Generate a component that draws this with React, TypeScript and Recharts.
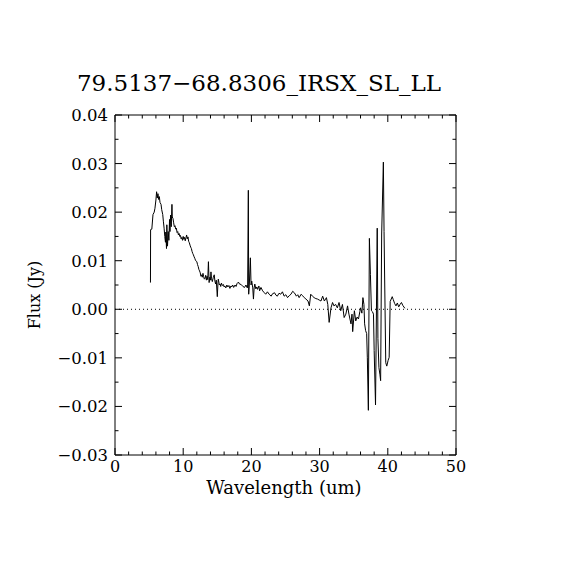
import { LineChart, Line, XAxis, YAxis, ReferenceLine } from 'recharts';

const TITLE = '79.5137\u221268.8306_IRSX_SL_LL';

const WAVELENGTH = [
  5.2, 5.22, 5.4, 5.57, 5.75, 5.86, 6.0, 6.1, 6.2, 6.3,
  6.4, 6.5, 6.6, 6.75, 6.85, 7.0, 7.1, 7.2, 7.3, 7.4,
  7.45, 7.55, 7.6, 7.7, 7.8, 7.9, 8.0, 8.06, 8.15, 8.25,
  8.35, 8.4, 8.5, 8.6, 8.7, 8.8, 8.9, 9.0, 9.1, 9.2,
  9.3, 9.4, 9.5, 9.6, 9.7, 9.8, 9.9, 10.0, 10.1, 10.2,
  10.3, 10.4, 10.5, 10.6, 10.7, 10.8, 10.9, 11.0, 11.1, 11.2,
  11.3, 11.4, 11.5, 11.6, 11.7, 11.8, 11.9, 12.0, 12.1, 12.2,
  12.3, 12.4, 12.5, 12.6, 12.7, 12.8, 12.9, 13.0, 13.1, 13.2,
  13.3, 13.4, 13.5, 13.6, 13.7, 13.8, 13.9, 14.0, 14.07, 14.15,
  14.27, 14.4, 14.55, 14.65, 14.75, 14.85, 15.0, 15.1, 15.15, 15.3,
  15.4, 15.5, 15.6, 15.75, 15.9, 16.0, 16.1, 16.25, 16.4, 16.55,
  16.7, 16.85, 17.0, 17.1, 17.25, 17.4, 17.6, 17.75, 17.9, 18.1,
  18.25, 18.5, 18.75, 19.0, 19.2, 19.4, 19.45, 19.55, 19.6, 19.7,
  19.85, 19.95, 20.05, 20.2, 20.3, 20.4, 20.5, 20.65, 20.8, 20.9,
  21.1, 21.2, 21.4, 21.65, 21.9, 22.1, 22.35, 22.6, 22.9, 23.1,
  23.4, 23.6, 23.8, 24.05, 24.3, 24.55, 24.8, 25.05, 25.3, 25.55,
  25.8, 26.05, 26.3, 26.6, 26.8, 27.0, 27.3, 27.5, 27.75, 28.0,
  28.3, 28.5, 28.7, 28.95, 29.2, 29.45, 29.7, 29.95, 30.2, 30.45,
  30.7, 31.0, 31.2, 31.4, 31.67, 31.9, 32.1, 32.35, 32.6, 32.85,
  33.1, 33.35, 33.6, 33.85, 34.1, 34.3, 34.6, 34.75, 34.85, 35.1,
  35.3, 35.5, 35.7, 35.9, 36.0, 36.2, 36.35, 36.5, 36.6, 36.75,
  36.9, 37.0, 37.15, 37.3, 37.45, 37.6, 37.75, 37.9, 38.0, 38.2,
  38.45, 38.55, 38.7, 38.85, 38.95, 39.1, 39.35, 39.45, 39.7, 39.85,
  40.05, 40.2, 40.35, 40.65, 40.8, 41.0, 41.2, 41.4, 41.6, 41.8,
  42.0, 42.2, 42.5,
];

const FLUX = [
  0.0055, 0.0164, 0.0165, 0.0195, 0.02, 0.0208, 0.0225, 0.0242, 0.0229, 0.0238,
  0.0226, 0.0232, 0.022, 0.0216, 0.0205, 0.0195, 0.018, 0.0167, 0.015, 0.0138,
  0.0159, 0.0125, 0.0174, 0.013, 0.016, 0.0142, 0.0185, 0.016, 0.0194, 0.017,
  0.0216, 0.019, 0.0187, 0.0178, 0.017, 0.0172, 0.0165, 0.0167, 0.0158, 0.016,
  0.0153, 0.0156, 0.015, 0.0152, 0.0145, 0.0148, 0.0142, 0.015, 0.0144, 0.0148,
  0.0141, 0.0147, 0.0153, 0.0145, 0.0149, 0.014, 0.0137, 0.0132, 0.0128, 0.0125,
  0.0119, 0.0115, 0.0112, 0.0108, 0.0105, 0.0101, 0.0099, 0.0098, 0.0092, 0.0088,
  0.0082, 0.0079, 0.0075, 0.0068, 0.0071, 0.0066, 0.0074, 0.0067, 0.0062, 0.0064,
  0.007, 0.006, 0.0068, 0.0061, 0.0098, 0.0055, 0.0066, 0.006, 0.0077, 0.0063,
  0.0057, 0.0065, 0.0071, 0.0058, 0.0052, 0.006, 0.0026, 0.0055, 0.0062, 0.005,
  0.0052, 0.0047, 0.0054, 0.0049, 0.0051, 0.0046, 0.0048, 0.0044, 0.005, 0.0046,
  0.0049, 0.0043, 0.0048, 0.0046, 0.005, 0.0045, 0.005, 0.0047, 0.0053, 0.0056,
  0.0052, 0.0051, 0.0047, 0.0045, 0.005, 0.0044, 0.005, 0.0245, 0.0031, 0.0052,
  0.0106, 0.005, 0.0058, 0.0044, 0.0021, 0.0044, 0.0052, 0.0042, 0.0046, 0.0041,
  0.0048, 0.0038, 0.0045, 0.0038, 0.0034, 0.0031, 0.0036, 0.0031, 0.0027, 0.0032,
  0.0034, 0.0029, 0.0027, 0.0033, 0.0031, 0.0036, 0.0027, 0.003, 0.0024, 0.0028,
  0.0031, 0.0037, 0.0034, 0.0027, 0.003, 0.0024, 0.0031, 0.0028, 0.0024, 0.0021,
  0.0017, 0.0007, 0.0031, 0.0027, 0.0024, 0.0022, 0.0021, 0.0019, 0.0017, 0.0027,
  0.0017, 0.0024, 0.001, -0.0027, 0.0003, 0.0014, 0.0007, 0.001, 0.0003, 0.0014,
  -0.0003, 0.001, -0.0017, -0.001, 0.0007, -0.001, -0.003, -0.001, -0.0046, -0.0003,
  -0.0024, -0.0016, -0.002, -0.0005, 0.0003, -0.0008, 0.0024, 0.001, -0.003, -0.0044,
  -0.005, -0.01, -0.0208, 0.0146, 0.0072, -0.0003, -0.0005, -0.001, -0.0085, -0.0197,
  0.0167, -0.006, -0.012, -0.0135, -0.0147, 0.0155, 0.0303, 0.016, -0.011, -0.0117,
  -0.0105, -0.0099, 0.0016, 0.0026, 0.002, 0.0012, 0.0007, 0.0013, 0.0005, 0.001,
  0.0014, 0.0008, 0.0002,
];

const X_TICKS = [0, 2, 4, 6, 8, 10, 12, 14, 16, 18, 20, 22, 24, 26, 28, 30, 32, 34, 36, 38, 40, 42, 44, 46, 48, 50];
const Y_TICKS = [-0.03, -0.025, -0.02, -0.015, -0.01, -0.005, 0, 0.005, 0.01, 0.015, 0.02, 0.025, 0.03, 0.035, 0.04];

const data = WAVELENGTH.map((wl, i) => ({ wl, flux: FLUX[i] }));

const FONT = 'DejaVu Serif';
const MAJOR = 7;
const MINOR = 3.5;

const fmtY = (v: number) => (v < 0 ? '\u2212' : '') + Math.abs(v).toFixed(2);
const isMajorX = (v: number) => v % 10 === 0;
const isMajorY = (v: number) => Math.round(v * 1000) % 10 === 0;

// ticks drawn by hand so they point into the plot, IDL style
const XTick = ({ x, y, payload, dir, showLabel }: any) => {
  const major = isMajorX(payload.value);
  const len = major ? MAJOR : MINOR;
  return (
    <g>
      <line x1={x} x2={x} y1={y} y2={y + dir * len} stroke="#000" />
      {showLabel && major && (
        <text x={x} y={y + 17} textAnchor="middle" fontFamily={FONT} fontSize={16} fill="#000">
          {payload.value}
        </text>
      )}
    </g>
  );
};

const YTick = ({ x, y, payload, dir, showLabel }: any) => {
  const major = isMajorY(payload.value);
  const len = major ? MAJOR : MINOR;
  return (
    <g>
      <line x1={x} x2={x + dir * len} y1={y} y2={y} stroke="#000" />
      {showLabel && major && (
        <text x={x - 7} y={y + 6} textAnchor="end" fontFamily={FONT} fontSize={16.5} fill="#000">
          {fmtY(payload.value)}
        </text>
      )}
    </g>
  );
};

export default function App() {
  return (
    <div style={{ position: 'absolute', left: 0, top: 0, background: '#fff' }}>
      <LineChart width={570} height={570} data={data} margin={{ top: 114, right: 113, bottom: 85, left: 55 }}>
        <XAxis
          dataKey="wl"
          type="number"
          domain={[0, 50]}
          ticks={X_TICKS}
          interval={0}
          height={30}
          tickSize={0}
          tickMargin={0}
          stroke="#000"
          tick={(p: any) => <XTick {...p} dir={-1} showLabel />}
        />
        <XAxis
          xAxisId="top"
          orientation="top"
          dataKey="wl"
          type="number"
          domain={[0, 50]}
          ticks={X_TICKS}
          interval={0}
          height={1}
          tickSize={0}
          tickMargin={0}
          stroke="#000"
          tick={(p: any) => <XTick {...p} dir={1} />}
        />
        <YAxis
          type="number"
          domain={[-0.03, 0.04]}
          ticks={Y_TICKS}
          interval={0}
          allowDataOverflow
          width={60}
          tickSize={0}
          tickMargin={0}
          stroke="#000"
          tick={(p: any) => <YTick {...p} dir={1} showLabel />}
        />
        <YAxis
          yAxisId="right"
          orientation="right"
          type="number"
          domain={[-0.03, 0.04]}
          ticks={Y_TICKS}
          interval={0}
          allowDataOverflow
          width={1}
          tickSize={0}
          tickMargin={0}
          stroke="#000"
          tick={(p: any) => <YTick {...p} dir={-1} />}
        />
        <ReferenceLine y={0} stroke="#000" strokeWidth={1} strokeDasharray="1 3" />
        {/* invisible copy so the top and right axes get drawn */}
        <Line
          xAxisId="top"
          yAxisId="right"
          type="linear"
          dataKey="flux"
          stroke="none"
          dot={false}
          activeDot={false}
          legendType="none"
          isAnimationActive={false}
        />
        <Line
          type="linear"
          dataKey="flux"
          stroke="#000"
          strokeWidth={1}
          dot={false}
          isAnimationActive={false}
        />
        <text x={259} y={91} textAnchor="middle" fontFamily={FONT} fontSize={23} fill="#000">
          {TITLE}
        </text>
        <text x={284} y={494} textAnchor="middle" fontFamily={FONT} fontSize={18} fill="#000">
          Wavelength (um)
        </text>
        <text
          x={0}
          y={0}
          transform="translate(40, 295) rotate(-90)"
          textAnchor="middle"
          fontFamily={FONT}
          fontSize={16}
          fill="#000"
        >
          Flux (Jy)
        </text>
      </LineChart>
    </div>
  );
}
